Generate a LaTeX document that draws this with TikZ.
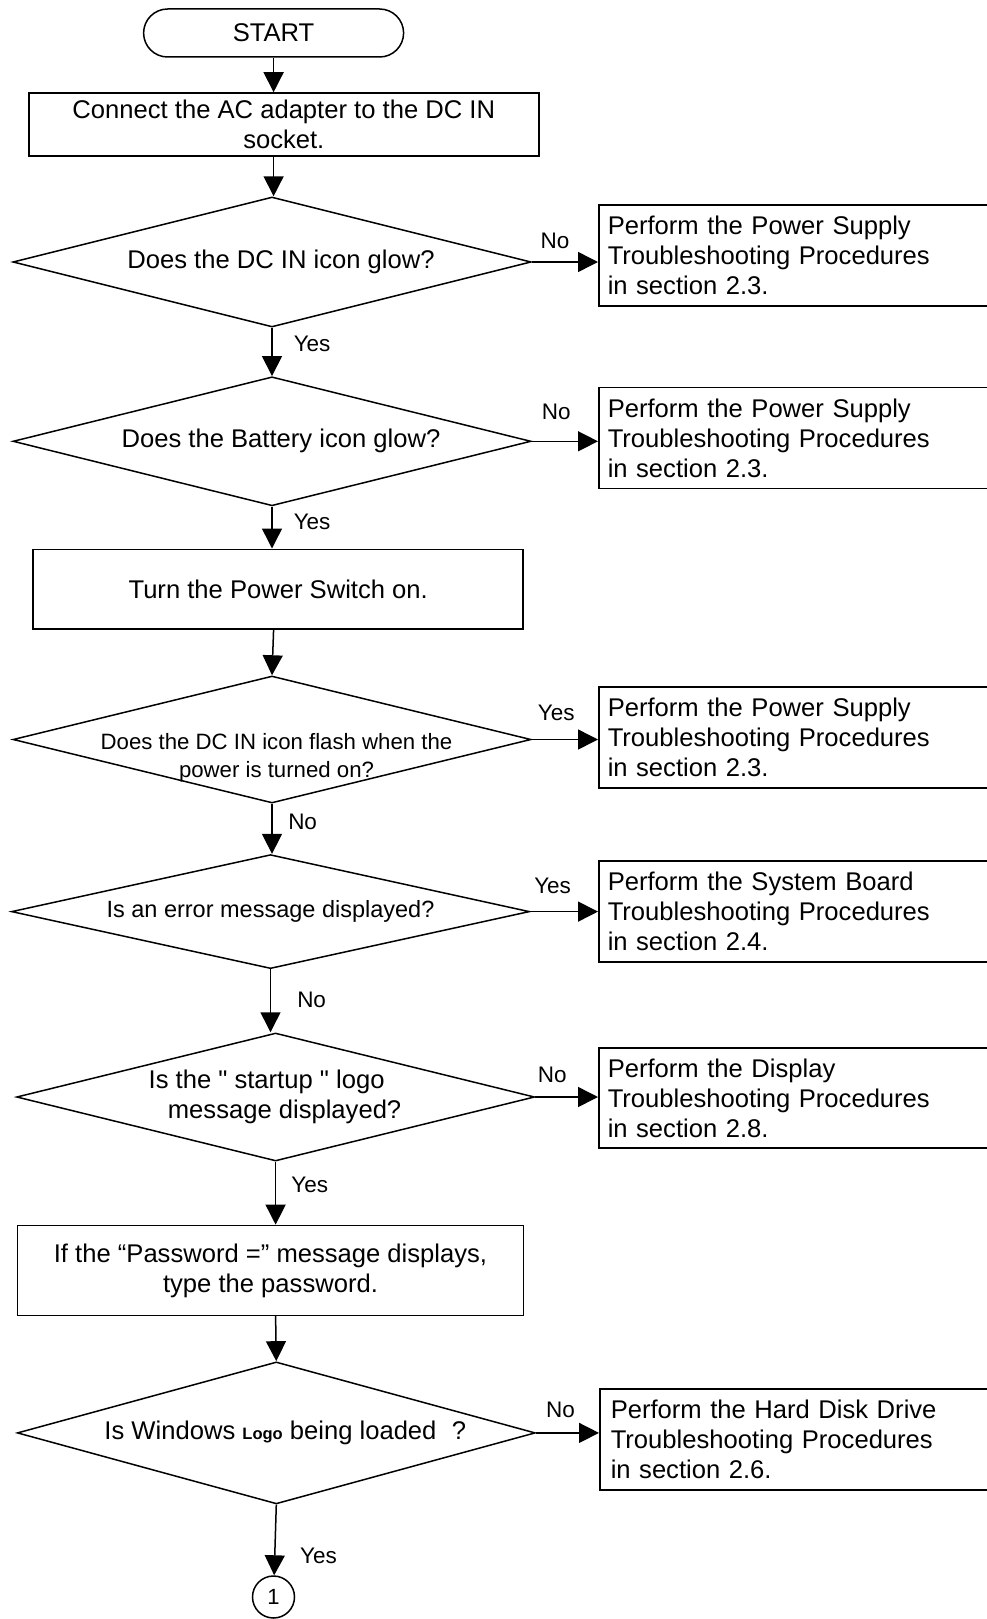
\documentclass[tikz,border=0pt]{standalone}
\usepackage{fontspec}
\setmainfont{Liberation Sans}[Ligatures=TeXOff]
\usepackage{tikz}
\usetikzlibrary{shapes}
\usetikzlibrary{arrows.meta}
\tikzset{
  main node/.style={draw,line width=1.5pt,font=\fontsize{25.6}{30}\selectfont},
  start node/.style={main node,rounded corners=24pt,minimum width=260pt,minimum height=48pt,inner sep=0pt},
  action node/.style={main node,align=center,inner sep=0pt},
  test node/.style={main node,diamond,aspect=4,inner sep=0pt,minimum width=518pt,align=center},
  side node/.style={main node,anchor=west,text width=376pt,align=left,inner xsep=9pt,inner ysep=0pt,minimum height=101pt},
  answer/.style={font=\fontsize{22.5}{26}\selectfont,inner sep=0pt},
  link node/.style={main node,circle,minimum size=42pt,inner sep=0pt,font=\fontsize{22}{26}\selectfont}
}

\begin{document}
\begin{tikzpicture}[->,>={Triangle[length=20pt,width=20pt]},x=1pt,y=-1pt,line width=1.5pt]
  \useasboundingbox (0,0) rectangle (987,1619);
  \node [start node] (start) at (273.6,33) {START};
  \node [action node,minimum width=510pt,minimum height=63pt] (adapter) at (283.8,124.5)
    {Connect the AC adapter to the DC IN\\socket.};
  \node [test node,minimum height=130pt] (dcin) at (272,262) {\hspace*{18pt}Does the DC IN icon glow?};
  \node [side node] (dcinno) at (598,255.5)
    {Perform the Power Supply\\Troubleshooting Procedures\\in section 2.3.};
  \node [test node,minimum height=129pt] (batt) at (272,441.3) {\hspace*{18pt}Does the Battery icon glow?};
  \node [side node] (battno) at (598,438.2)
    {Perform the Power Supply\\Troubleshooting Procedures\\in section 2.3.};
  \node [action node,minimum width=490pt,minimum height=79.5pt] (power) at (278.2,589)
    {Turn the Power Switch on.};
  \node [test node,minimum height=127pt,inner xsep=-100pt,font=\fontsize{22.2}{28.3}\selectfont] (flash) at (272,739.5)
    {\rule{0pt}{52pt}\hspace*{9pt}Does the DC IN icon flash when the\\\hspace*{9pt}power is turned on?};
  \node [side node] (flashyes) at (598,737.3)
    {Perform the Power Supply\\Troubleshooting Procedures\\in section 2.3.};
  \node [test node,minimum height=114pt,font=\fontsize{23.5}{28}\selectfont] (error) at (270.5,911.6)
    {Is an error message displayed?};
  \node [side node] (erroryes) at (598,911.5)
    {Perform the System Board\\Troubleshooting Procedures\\in section 2.4.};
  \node [test node,minimum height=128pt] (logo) at (275.6,1097)
    {Is the " startup " logo\hspace*{18pt}\\\hspace*{18pt}message displayed?};
  \node [side node,minimum height=100pt] (logono) at (598,1098)
    {Perform the Display\\Troubleshooting Procedures\\in section 2.8.};
  \node [action node,minimum width=506pt,minimum height=90pt] (password) at (270.5,1270.4)
    {If the “Password =” message displays,\\type the password.};
  \node [test node,minimum height=142pt] (windows) at (276.3,1432.9)
    {\hspace*{18pt}Is Windows {\bfseries\fontsize{16.5}{18}\selectfont Logo} being loaded\hspace{0.6em}?};
  \node [side node,inner xsep=11pt] (windowsno) at (599,1439.7)
    {Perform the Hard Disk Drive\\Troubleshooting Procedures\\in section 2.6.};
  \node [link node] (next) at (273.5,1597) {1};

  \draw (start) -- (start |- adapter.north);
  \draw (start |- adapter.south) -- (start |- dcin.north);
  \draw (dcin.east) -- (dcin.east -| dcinno.west) node [answer,above=12.7pt,pos=0.35] (dcinnolbl) {No};
  \draw (dcin.south) -- (dcin.south |- batt.north) node [answer,right=21pt,pos=0.34] (dcinyes) {Yes};
  \draw (batt.east) -- (batt.east -| battno.west) node [answer,above=20.7pt,pos=0.37] (battnolbl) {No};
  \draw (batt.south) -- (batt.south |- power.north) node [answer,right=21pt,pos=0.36] (battyes) {Yes};
  \draw (273.6,0 |- power.south) -- (flash.north);
  \draw (flash.east) -- (flash.east -| flashyes.west) node [answer,above=18pt,pos=0.37] (flashyeslbl) {Yes};
  \draw (flash.south) -- (flash.south |- error.north) node [answer,right=15.5pt,pos=0.36] (flashno) {No};
  \draw (error.east) -- (error.east -| erroryes.west) node [answer,above=17pt,pos=0.33] (erroryeslbl) {Yes};
  \draw (error.south) -- (error.south |- logo.north) node [answer,right=26pt,pos=0.48] (errorno) {No};
  \draw (logo.east) -- (logo.east -| logono.west) node [answer,above=14pt,pos=0.27] (logonolbl) {No};
  \draw (logo.south) -- (logo.south |- password.north) node [answer,right=15pt,pos=0.36] (logoyes) {Yes};
  \draw (logo.south |- password.south) -- (windows.north);
  \draw (windows.east) -- (windows.east -| windowsno.west) node [answer,above=14.7pt,pos=0.39] (windowsnolbl) {No};
  \draw (windows.south) -- (next) node [answer,right=24.6pt,pos=0.72] (windowsyes) {Yes};
\end{tikzpicture}
\end{document}
